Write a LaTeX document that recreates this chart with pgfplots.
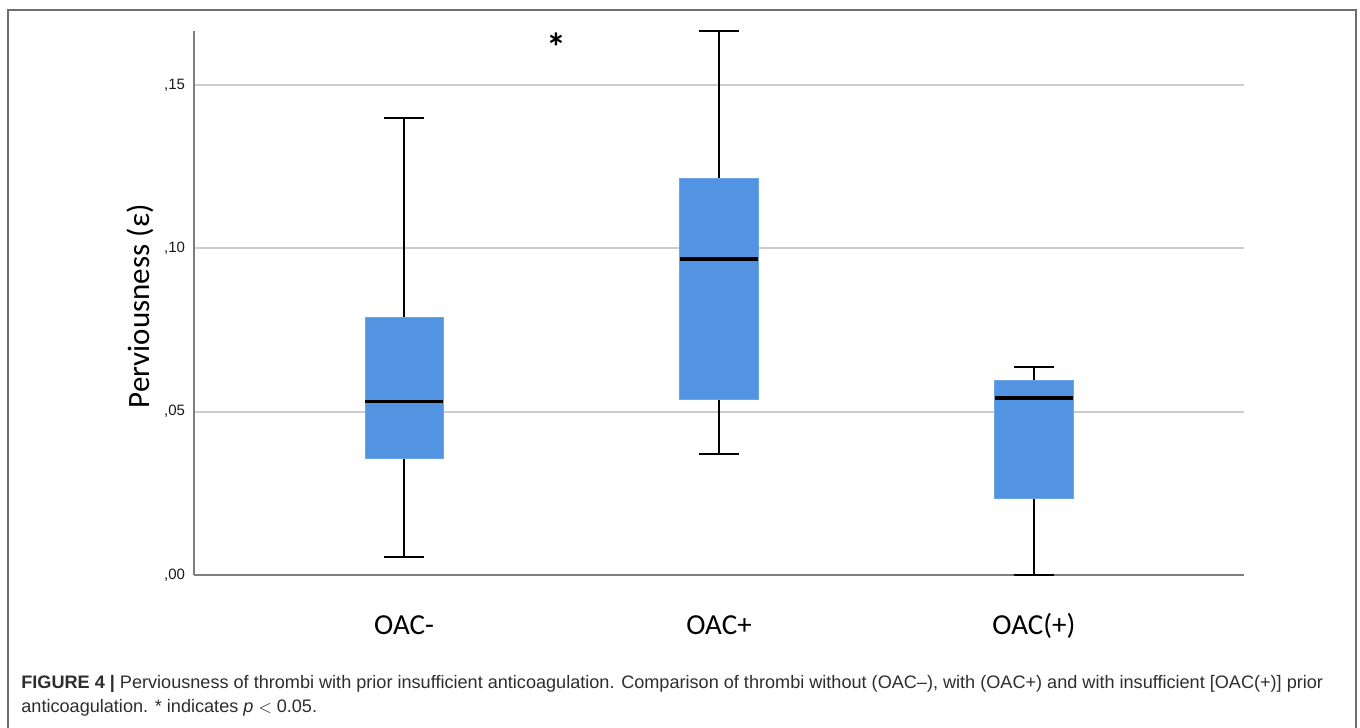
\documentclass[border=0pt]{standalone}
\usepackage{pgfplots}
\pgfplotsset{compat=1.18}
\usepackage{fontspec}
\setmainfont{Liberation Sans}
\newfontfamily\calibri{Carlito}
\definecolor{boxblue}{RGB}{83,148,226}
\definecolor{gridgray}{RGB}{205,205,205}
\definecolor{axisgray}{RGB}{125,125,125}
\definecolor{captext}{RGB}{45,45,45}
\definecolor{framegray}{RGB}{110,110,110}
\begin{document}
\begin{tikzpicture}
\begin{scope}[x=0.5pt,y=0.5pt]
\path[use as bounding box] (0,0) rectangle (1360,728);
\draw[framegray, line width=1pt] (7.5,-12) -- (7.5,718) -- (1356,718) -- (1356,-12);
\node[anchor=base west, font=\fontsize{9.05}{11}\selectfont, text=captext, inner sep=0pt] at (21,39)
  {\textbf{FIGURE 4 |} Perviousness of thrombi with prior insufficient anticoagulation. Comparison of thrombi without (OAC–), with (OAC+) and with insufficient [OAC(+)] prior};
\node[anchor=base west, font=\fontsize{9.05}{11}\selectfont, text=captext, inner sep=0pt] at (21,15)
  {anticoagulation. * indicates \textit{p} {\fontsize{8}{10}\selectfont$<$} 0.05.};
\end{scope}
\begin{axis}[
  at={(97pt,76.5pt)}, anchor=south west,
  scale only axis, width=525pt, height=272pt,
  xmin=-0.667, xmax=2.667, ymin=0, ymax=0.1665,
  axis x line*=bottom, axis y line*=left,
  axis line style={axisgray, line width=1pt},
  major tick length=0pt,
  xtick={0,1,2}, xticklabels={OAC-,OAC+,OAC(+)},
  xticklabel style={font=\calibri\fontsize{14.5}{16}\selectfont, anchor=base, yshift=-30pt},
  ytick={0,0.05,0.1,0.15}, yticklabels={{,00},{,05},{,10},{,15}},
  yticklabel style={font=\fontsize{7.5}{9}\selectfont, color=black!90, xshift=-1pt},
  ymajorgrids, grid style={gridgray, line width=1pt},
  ylabel={Perviousness (ε)},
  ylabel style={font=\calibri\fontsize{15.5}{17}\selectfont, at={(axis description cs:-0.0514,0.494)}, anchor=center},
  clip=false,
  boxfill/.style={fill=boxblue, draw=boxblue!85!white, line width=0.5pt, mark=none},
  med/.style={black, line width=1.6pt, mark=none},
  whisk/.style={black, line width=1pt, mark=none},
]
% OAC-: lower whisker 0.0055, Q1 0.0358, median 0.0530, Q3 0.0787, upper whisker 0.1399
\addplot[whisk] coordinates {(0,0.0055) (0,0.0358)};
\addplot[whisk] coordinates {(0,0.0787) (0,0.1399)};
\addplot[whisk] coordinates {(-0.0625,0.0055) (0.0625,0.0055)};
\addplot[whisk] coordinates {(-0.0625,0.1399) (0.0625,0.1399)};
\addplot[boxfill] coordinates {(-0.124,0.0358) (0.124,0.0358) (0.124,0.0787) (-0.124,0.0787) (-0.124,0.0358)};
\addplot[med] coordinates {(-0.124,0.0530) (0.124,0.0530)};
% OAC+: lower whisker 0.0370, Q1 0.0536, median 0.0967, Q3 0.1212, upper whisker 0.1665
\addplot[whisk] coordinates {(1,0.0370) (1,0.0536)};
\addplot[whisk] coordinates {(1,0.1212) (1,0.1665)};
\addplot[whisk] coordinates {(0.9375,0.0370) (1.0625,0.0370)};
\addplot[whisk] coordinates {(0.9375,0.1665) (1.0625,0.1665)};
\addplot[boxfill] coordinates {(0.876,0.0536) (1.124,0.0536) (1.124,0.1212) (0.876,0.1212) (0.876,0.0536)};
\addplot[med] coordinates {(0.876,0.0967) (1.124,0.0967)};
% OAC(+): lower whisker 0.0, Q1 0.0233, median 0.0542, Q3 0.0594, upper whisker 0.0637
\addplot[whisk] coordinates {(2,0.0) (2,0.0233)};
\addplot[whisk] coordinates {(2,0.0594) (2,0.0637)};
\addplot[whisk] coordinates {(1.9375,0.0) (2.0625,0.0)};
\addplot[whisk] coordinates {(1.9375,0.0637) (2.0625,0.0637)};
\addplot[boxfill] coordinates {(1.876,0.0233) (2.124,0.0233) (2.124,0.0594) (1.876,0.0594) (1.876,0.0233)};
\addplot[med] coordinates {(1.876,0.0542) (2.124,0.0542)};
\node[font=\calibri\bfseries\fontsize{20}{20}\selectfont] at (axis cs:0.483,0.1615) {*};
\end{axis}
\end{tikzpicture}
\end{document}
